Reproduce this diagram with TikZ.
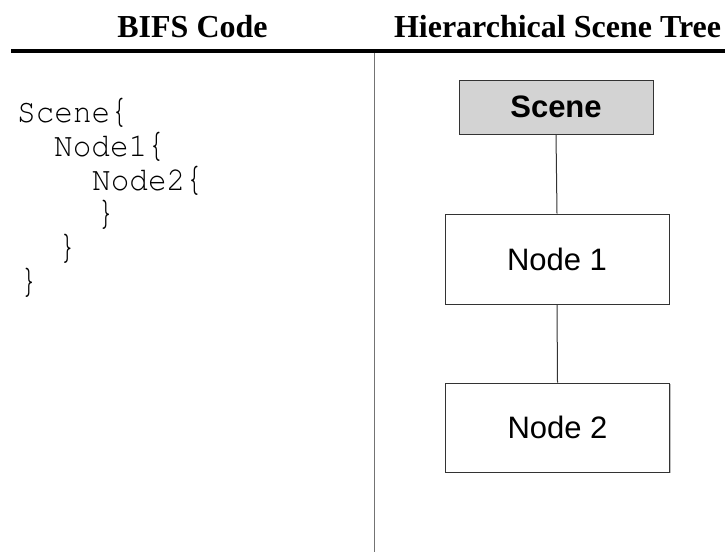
\documentclass[tikz,border=0pt]{standalone}
\usepackage[T1]{fontenc}
\usepackage{fontspec}
\usepackage{graphicx}
\setmainfont{Liberation Serif}
\newfontfamily\boxfont{Liberation Sans}
\newcommand\courierfont{\fontencoding{T1}\fontfamily{pcr}\fontseries{m}\fontshape{n}\selectfont}
\newcommand\obr{\scalebox{1}[1.3]{\{}}
\newcommand\cbr{\scalebox{1}[1.3]{\}}}
\usetikzlibrary{shadows}
\definecolor{scenegray}{HTML}{D3D3D3}
\definecolor{edgegray}{HTML}{333333}
\tikzset{
  x=1pt, y=-1pt,
  header/.style={anchor=base, inner sep=0pt, font=\fontsize{32}{36}\selectfont\bfseries},
  codeline/.style={anchor=base west, inner sep=0pt, font=\fontsize{31}{34}\courierfont},
  codebrace/.style={anchor=base, inner sep=0pt, font=\fontsize{31}{34}\courierfont},
  treebox/.style={draw=edgegray, line width=1pt, fill=white, inner sep=0pt,
     font=\fontsize{31}{36}\boxfont,
     drop shadow={shadow xshift=1pt, shadow yshift=-1.2pt, fill=black!25, opacity=1}},
  link/.style={draw=edgegray, line width=1pt}
}
\begin{document}
\begin{tikzpicture}
\useasboundingbox (0,0) rectangle (725,552);
% headers
\node[header] (h1) at (192.5,37) {BIFS Code};
\node[header] (h2) at (557.5,37) {Hierarchical Scene Tree};
\draw[line width=3.2pt] (11,51) -- (725,51);
\draw[draw=black!55, line width=0.8pt] (374.5,52.5) -- (374.5,552);
% code
\node[codeline] (c1) at (17,122) {\scalebox{1}[1.08]{Scene}\obr};
\node[codeline] (c2) at (54,156) {\scalebox{1}[1.08]{Node1}\obr};
\node[codeline] (c3) at (92,190) {\scalebox{1}[1.08]{Node2}\obr};
\node[codebrace] (c4) at (106,224) {\cbr};
\node[codebrace] (c5) at (67.5,258) {\cbr};
\node[codebrace] (c6) at (29,292) {\cbr};
% tree
\node[treebox, fill=scenegray, minimum width=194pt, minimum height=54pt,
      font=\fontsize{31}{36}\boxfont\bfseries] (scene) at (556,107) {Scene};
\node[treebox, minimum width=224pt, minimum height=90pt] (n1) at (557,259) {Node 1};
\node[treebox, minimum width=224pt, minimum height=89pt] (n2) at (557.5,427.5) {Node 2};
\draw[link] (scene.south) -- (n1.north);
\draw[link] (n1.south) -- (n2.north);
\end{tikzpicture}
\end{document}
